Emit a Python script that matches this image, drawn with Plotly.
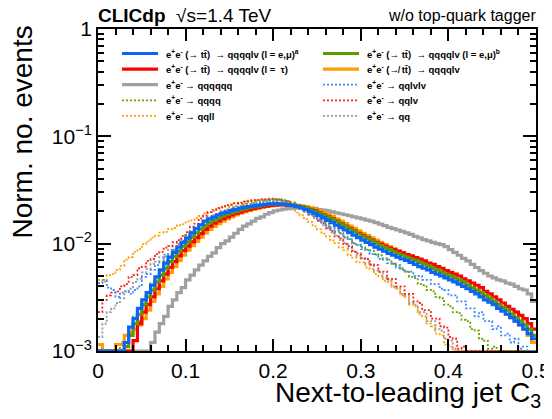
import plotly.graph_objects as go

# ---------------- data (normalised counts, units of 1e-3) ----------------
BIN_WIDTH = 0.005  # histogram bin width in C3

tt_emu_a = [1.0,1.0,1.0,1.0,1.0,1.0,1.2,1.67,2.0,2.5,
            3.0,3.5,4.1,4.9,5.7,6.6,7.5,8.3,9.3,10.3,
            11.3,12.6,13.8,15.0,16.2,17.0,17.7,18.5,19.2,19.7,
            20.3,20.8,21.4,21.8,22.1,22.4,22.7,23.0,23.3,23.5,
            23.5,23.4,23.3,23.0,22.6,22.1,21.5,20.8,20.0,19.2,
            18.3,17.4,16.5,15.7,14.9,14.1,13.4,12.7,12.0,11.4,
            10.8,10.3,9.8,9.3,8.9,8.5,8.1,7.8,7.5,7.2,
            7.0,6.7,6.4,6.1,5.9,5.7,5.4,5.2,5.0,4.8,
            4.6,4.4,4.2,4.0,3.8,3.6,3.4,3.2,3.0,2.85,
            2.7,2.5,2.35,2.2,2.05,1.9,1.75,1.6,1.45,1.3]

tt_emu_b = [1.0,1.0,1.0,1.0,1.0,1.0,1.1,1.4,1.8,2.2,
            2.7,3.2,3.7,4.4,5.1,5.9,6.8,7.6,8.5,9.5,
            10.4,11.5,12.6,13.7,14.8,15.7,16.5,17.3,18.1,18.8,
            19.4,20.0,20.6,21.1,21.6,22.0,22.4,22.8,23.1,23.4,
            23.5,23.5,23.4,23.2,22.9,22.5,22.0,21.4,20.7,20.0,
            19.2,18.4,17.6,16.8,16.0,15.2,14.4,13.7,13.0,12.3,
            11.7,11.1,10.6,10.1,9.6,9.2,8.8,8.4,8.1,7.8,
            7.5,7.2,7.0,6.7,6.4,6.2,5.9,5.7,5.4,5.2,
            5.0,4.8,4.6,4.4,4.1,3.9,3.7,3.5,3.3,3.1,
            2.9,2.7,2.55,2.4,2.2,2.05,1.9,1.75,1.6,1.4]

tt_tau = [1.0,1.0,1.0,1.0,1.0,1.0,1.0,1.0,1.25,1.8,
          2.3,2.7,3.2,3.8,4.5,5.2,6.0,6.8,7.7,8.6,
          9.5,10.4,11.4,12.4,13.6,14.6,15.5,16.3,17.1,17.8,
          18.5,19.1,19.7,20.3,20.8,21.3,21.7,22.1,22.4,22.7,
          22.9,23.0,23.0,22.9,22.7,22.4,22.0,21.5,20.9,20.3,
          19.4,18.6,17.8,17.0,16.2,15.4,14.6,13.9,13.2,12.5,
          11.9,11.3,10.8,10.3,9.9,9.5,9.1,8.8,8.5,8.2,
          7.9,7.7,7.4,7.2,6.9,6.6,6.4,6.1,5.9,5.6,
          5.4,5.2,5.0,4.7,4.5,4.3,4.1,3.9,3.6,3.4,
          3.2,3.0,2.8,2.6,2.45,2.3,2.15,2.0,1.8,1.6]

non_tt = [1.15,1.0,1.0,1.0,1.15,1.15,1.4,1.5,1.6,1.75,
          2.0,2.4,2.9,3.4,4.0,4.7,5.4,6.1,7.0,7.8,
          8.7,9.6,10.5,11.5,12.6,13.6,14.5,15.4,16.2,17.0,
          17.8,18.5,19.2,19.8,20.4,20.9,21.4,21.8,22.2,22.5,
          22.8,23.0,23.1,23.1,23.0,22.8,22.5,22.1,21.6,21.0,
          20.3,19.5,18.7,17.9,17.0,16.2,15.4,14.6,13.9,13.2,
          12.5,11.9,11.3,10.8,10.3,9.8,9.4,9.0,8.6,8.2,
          7.8,7.5,7.2,6.9,6.6,6.3,6.0,5.7,5.5,5.2,
          5.0,4.8,4.5,4.3,4.1,3.8,3.6,3.4,3.2,3.0,
          2.8,2.6,2.4,2.2,2.05,1.9,1.75,1.6,1.4,1.2]

qqqqqq = [1.0,1.0,1.0,1.0,1.0,1.0,1.0,1.0,1.0,1.0,
          1.0,1.0,1.2,1.5,1.8,2.1,2.6,3.0,3.5,3.9,
          4.6,5.1,5.7,6.3,6.9,7.6,8.2,9.2,10.0,10.6,
          11.5,12.5,13.6,14.6,15.3,16.2,17.2,17.8,18.8,19.5,
          20.2,20.6,21.0,21.2,21.4,21.5,21.6,21.6,21.5,21.3,
          20.8,20.5,20.2,19.8,19.4,19.0,18.6,18.2,17.8,17.4,
          17.0,16.6,16.2,15.7,15.2,14.7,14.2,13.8,13.4,13.0,
          12.6,12.2,11.7,11.3,10.9,10.6,10.3,10.0,9.8,9.4,
          8.8,8.3,7.8,7.3,6.9,6.4,6.0,5.6,5.3,5.0,
          4.8,4.6,4.5,4.3,4.2,4.0,3.8,3.7,3.4,2.9]

qqlvlv = [4.3,4.6,3.9,3.7,3.2,3.5,3.6,3.4,3.7,4.0,
          4.9,5.2,5.7,6.3,6.7,7.6,7.9,8.8,9.3,10.4,
          10.9,11.9,12.4,13.5,14.2,15.4,16.1,17.1,17.7,18.8,
          19.4,20.4,21.0,21.9,22.4,23.3,23.6,24.3,24.5,25.0,
          24.9,24.9,24.3,23.9,22.9,22.2,21.1,20.3,19.1,18.2,
          16.8,15.9,14.6,14.0,12.9,12.4,11.4,11.0,10.0,9.7,
          8.9,8.7,8.0,7.9,7.2,7.1,6.6,6.5,6.0,5.9,
          5.5,5.5,5.0,5.0,4.6,4.6,4.2,4.2,3.8,3.7,
          3.3,3.3,2.9,2.9,2.5,2.5,2.1,2.3,1.9,1.9,
          1.6,1.7,1.4,1.45,1.2,1.3,1.05,1.1,1.0,1.0]

qqqq = [1.0,1.0,1.0,1.0,1.0,1.2,1.4,1.5,2.1,1.9,
        2.8,3.3,4.3,4.8,5.6,6.9,7.4,8.7,9.9,10.6,
        12.0,12.8,14.2,15.3,16.1,17.3,18.0,18.9,19.8,20.3,
        21.1,21.7,22.4,22.9,23.5,24.0,24.6,25.0,25.6,25.7,
        26.0,25.8,25.5,24.9,24.2,23.2,22.3,21.2,20.1,18.9,
        17.8,16.5,15.3,14.4,13.3,12.6,11.6,11.0,10.1,9.8,
        9.3,8.8,8.6,8.0,7.8,7.3,7.1,6.5,6.3,5.7,
        5.5,4.9,4.8,4.2,4.1,3.7,3.6,3.2,3.1,2.7,
        2.6,2.3,2.25,1.95,1.9,1.6,1.55,1.3,1.25,1.05,
        1.1,1.0,1.0,1.0,1.0,1.0,1.0,1.0,1.0,1.0]

qqlv = [2.3,3.0,3.3,3.5,3.6,4.0,4.2,4.9,5.1,5.9,
        6.1,6.9,7.2,8.0,8.4,9.2,9.5,10.3,10.8,11.8,
        12.8,14.4,15.4,17.2,18.2,19.7,20.3,21.5,21.8,22.9,
        23.0,23.9,24.0,24.8,24.8,25.5,25.4,26.0,25.8,26.2,
        25.8,25.9,25.0,24.7,23.4,22.8,21.2,20.4,18.7,17.9,
        16.3,15.5,13.9,13.2,11.7,11.2,9.9,9.5,8.4,8.1,
        7.3,7.2,6.4,6.3,5.5,5.5,4.7,4.7,4.0,4.0,
        3.4,3.4,2.9,2.8,2.4,2.4,2.0,2.0,1.7,1.65,
        1.35,1.3,1.05,1.1,1.0,1.0,1.0,1.0,1.0,1.0,
        1.0,1.0,1.0,1.0,1.0,1.0,1.0,1.0,1.0,1.0]

qqll = [4.6,4.4,5.1,5.2,5.7,6.2,7.1,7.5,8.4,8.9,
        9.9,10.5,11.4,11.9,12.7,12.9,13.7,14.0,14.9,15.2,
        16.1,16.5,17.4,18.1,19.1,19.7,20.7,21.2,22.1,22.5,
        23.3,23.6,24.3,24.5,25.1,25.2,25.6,25.5,25.7,25.3,
        24.7,23.8,23.1,21.9,20.9,19.5,18.4,16.9,15.9,14.5,
        13.6,12.4,11.7,10.7,10.1,9.2,8.7,7.8,7.4,6.7,
        6.7,6.0,5.8,5.2,5.0,4.5,4.4,3.9,3.8,3.3,
        3.2,2.7,2.6,2.2,2.1,1.8,1.7,1.45,1.4,1.15,
        1.1,1.0,1.0,1.0,1.0,1.0,1.0,1.0,1.0,1.0,
        1.0,1.0,1.0,1.0,1.0,1.0,1.0,1.0,1.0,1.0]

qq = [1.35,1.8,2.3,2.5,2.8,3.1,3.6,3.8,4.4,4.7,
      5.4,5.8,6.5,6.8,7.5,7.9,8.8,9.4,10.3,10.9,
      11.9,12.5,13.7,14.7,16.1,17.1,18.4,19.2,20.3,20.9,
      21.9,22.4,23.3,23.7,24.5,24.8,25.4,25.5,25.9,25.8,
      25.9,25.4,25.1,24.2,23.5,22.2,21.2,19.8,18.7,17.3,
      16.3,14.9,14.0,12.7,11.9,10.8,10.1,9.1,8.6,7.7,
      7.3,6.6,6.3,5.6,5.4,4.8,4.6,4.0,3.9,3.4,
      3.3,2.8,2.7,2.3,2.3,1.9,1.9,1.6,1.55,1.3,
      1.25,1.05,1.0,1.0,1.0,1.0,1.0,1.0,1.0,1.0,
      1.0,1.0,1.0,1.0,1.0,1.0,1.0,1.0,1.0,1.0]

EE = "e<sup>+</sup>e<sup>-</sup>"
labels = {
    "tt_emu_a": EE + " (\u2192 tt\u0304)  \u2192 qqqqlv (l = e,\u03bc)<sup>a</sup>",
    "tt_emu_b": EE + " (\u2192 tt\u0304)  \u2192 qqqqlv (l = e,\u03bc)<sup>b</sup>",
    "tt_tau":   EE + " (\u2192 tt\u0304)  \u2192 qqqqlv (l =  \u03c4)",
    "non_tt":   EE + " (\u219b tt\u0304)  \u2192 qqqqlv",
    "qqqqqq":   EE + " \u2192 qqqqqq",
    "qqlvlv":   EE + " \u2192 qqlvlv",
    "qqqq":     EE + " \u2192 qqqq",
    "qqlv":     EE + " \u2192 qqlv",
    "qqll":     EE + " \u2192 qqll",
    "qq":       EE + " \u2192 qq",
}

# style: (data, color, width, dash)
styles = {
    "tt_emu_a": (tt_emu_a, "#0a64f5", 3.2, "solid"),
    "tt_emu_b": (tt_emu_b, "#5e9a00", 3.2, "solid"),
    "tt_tau":   (tt_tau,   "#ff0000", 3.2, "solid"),
    "non_tt":   (non_tt,   "#ff9c00", 3.2, "solid"),
    "qqqqqq":   (qqqqqq,   "#a0a0a0", 3.2, "solid"),
    "qqlvlv":   (qqlvlv,   "#3c8cff", 1.8, "2px,2px"),
    "qqqq":     (qqqq,     "#6aa000", 1.8, "2px,2px"),
    "qqlv":     (qqlv,     "#ff2020", 1.8, "2px,2px"),
    "qqll":     (qqll,     "#ffa000", 1.8, "2px,2px"),
    "qq":       (qq,       "#9a9a9a", 1.8, "2px,2px"),
}

draw_order = ["qq", "qqll", "qqlv", "qqqq", "qqlvlv",
              "qqqqqq", "non_tt", "tt_tau", "tt_emu_b", "tt_emu_a"]

# legend layout: two columns, five rows (row-major)
legend_grid = [["tt_emu_a", "tt_emu_b"],
               ["tt_tau", "non_tt"],
               ["qqqqqq", "qqlvlv"],
               ["qqqq", "qqlv"],
               ["qqll", "qq"]]

# The page body has an 8px margin, so the figure is drawn 8px in and down;
# all positions below are given in screenshot pixels and shifted by OFF.
OFF = 8
W, H = 552 - OFF, 419 - OFF
PL, PR, PT, PB = 98, 536, 29, 351          # plot box in screenshot pixels
ML, MT = PL - OFF, PT - OFF
MR, MB = W - (PR - OFF), H - (PB - OFF)
PW, PH = PR - PL, PB - PT

def px_x(px):
    return (px - PL) / PW

def px_y(py):
    return (PB - py) / PH

fig = go.Figure()
for key in draw_order:
    vals, color, width, dash = styles[key]
    edges = [round(i * BIN_WIDTH, 4) for i in range(len(vals) + 1)]
    y = [v * 1e-3 for v in vals] + [vals[-1] * 1e-3]
    fig.add_trace(go.Scatter(
        x=edges, y=y, mode="lines", name=key, showlegend=False,
        line=dict(color=color, width=width, dash=dash, shape="hv"),
        hoverinfo="skip"))

FONT = "Liberation Sans, Arial, Helvetica, sans-serif"
shapes = []
annotations = []
col_line_x = [(122, 158), (323, 359)]
col_text_x = [164, 365]
row_y0, row_dy = 53.5, 15.6
for r, row in enumerate(legend_grid):
    for c, key in enumerate(row):
        _, color, width, dash = styles[key]
        yy = px_y(row_y0 + r * row_dy)
        shapes.append(dict(type="line", xref="paper", yref="paper",
                           x0=px_x(col_line_x[c][0]), x1=px_x(col_line_x[c][1]),
                           y0=yy, y1=yy,
                           line=dict(color=color, width=width, dash=dash)))
        annotations.append(dict(xref="paper", yref="paper",
                                x=px_x(col_text_x[c]), y=yy,
                                xanchor="left", yanchor="middle",
                                text="<b>" + labels[key] + "</b>",
                                showarrow=False,
                                font=dict(family=FONT, size=9.5, color="black")))

annotations += [
    dict(xref="paper", yref="paper", x=px_x(96), y=px_y(16),
         xanchor="left", yanchor="middle", showarrow=False,
         text="<b>CLICdp</b>  \u221as=1.4 TeV",
         font=dict(family=FONT, size=19, color="black")),
    dict(xref="paper", yref="paper", x=px_x(538), y=px_y(15),
         xanchor="right", yanchor="middle", showarrow=False,
         text="w/o top-quark tagger",
         font=dict(family=FONT, size=16, color="black")),
    dict(xref="paper", yref="paper", x=px_x(543), y=px_y(375),
         xanchor="right", yanchor="top", showarrow=False,
         text="Next-to-leading jet C<sub>3</sub>",
         font=dict(family=FONT, size=28, color="black")),
    dict(xref="paper", yref="paper", x=px_x(22), y=px_y(24),
         xanchor="center", yanchor="top", showarrow=False, textangle=-90,
         text="Norm. no. events",
         font=dict(family=FONT, size=28, color="black")),
]

y_major = [1e-3, 1e-2, 1e-1, 1]
y_major_text = ["10<sup>\u22123</sup>", "10<sup>\u22122</sup>", "10<sup>\u22121</sup>", "1"]
y_minor = [m * 10.0 ** e for e in (-3, -2, -1) for m in range(2, 10)]

fig.update_layout(
    width=W, height=H, autosize=False,
    margin=dict(l=ML, r=MR, t=MT, b=MB, autoexpand=False),
    paper_bgcolor="white", plot_bgcolor="white",
    font=dict(family=FONT, size=21, color="black"),
    shapes=shapes, annotations=annotations,
    xaxis=dict(range=[0, 0.5], tickvals=[0, 0.1, 0.2, 0.3, 0.4, 0.5],
               ticktext=["0", "0.1", "0.2", "0.3", "0.4", "0.5"],
               ticks="inside", ticklen=12, tickwidth=1.5, tickcolor="black",
               minor=dict(dtick=0.02, tick0=0, ticks="inside", ticklen=6,
                          tickwidth=1.5, tickcolor="black"),
               showline=True, linecolor="black", linewidth=1.8,
               mirror="allticks", showgrid=False, zeroline=False,
               tickfont=dict(size=21)),
    yaxis=dict(type="log", range=[-3, 0], tickvals=y_major, ticktext=y_major_text,
               ticks="inside", ticklen=13, tickwidth=1.5, tickcolor="black",
               minor=dict(tickvals=y_minor, ticks="inside", ticklen=6,
                          tickwidth=1.5, tickcolor="black"),
               showline=True, linecolor="black", linewidth=1.8,
               mirror="allticks", showgrid=False, zeroline=False,
               tickfont=dict(size=21)),
)

fig.write_html("out.html")
